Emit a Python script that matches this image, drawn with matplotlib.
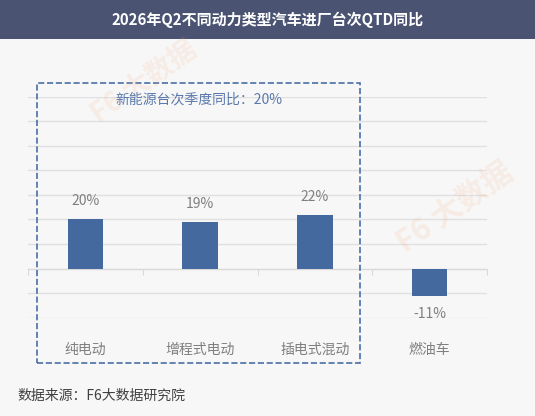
import matplotlib.pyplot as plt
from matplotlib.patches import Rectangle

plt.rcParams['font.family'] = ['Noto Sans CJK SC', 'DejaVu Sans']

# data
categories = ["纯电动", "增程式电动", "插电式混动", "燃油车"]
values = [20, 19, 22, -11]
title = "2026年Q2不同动力类型汽车进厂台次QTD同比"
note = "新能源台次季度同比：20%"
source = "数据来源：F6大数据研究院"

bar_color = "#44699e"
bg = "#f7f7f7"

fig = plt.figure(figsize=(5.35, 4.16), dpi=100, facecolor=bg)

# faint watermark
fig.text(0.27, 0.80, "F6 大数据", color="#f4a46a", alpha=0.13, fontsize=20,
         fontweight="bold", rotation=35, ha="center", va="center")
fig.text(0.85, 0.50, "F6 大数据", color="#f4a46a", alpha=0.13, fontsize=22,
         fontweight="bold", rotation=35, ha="center", va="center")

# title bar
fig.add_artist(Rectangle((0, 1 - 39 / 416), 1, 39 / 416, transform=fig.transFigure,
                         facecolor="#4a5472", edgecolor="none"))
fig.text(0.5, 1 - 19.5 / 416, title, ha="center", va="center", color="white",
         fontsize=10.8, fontweight="bold")

ax = fig.add_axes([28 / 535, 1 - 317.7 / 416, 459 / 535, 221 / 416])
ax.set_facecolor("none")

x = range(len(categories))
bars = ax.bar(x, values, width=0.31, color=bar_color, zorder=3)

ax.set_xlim(-0.5, len(categories) - 0.5)
ax.set_ylim(-20, 70)
ax.set_yticks(range(-20, 71, 10))
ax.yaxis.grid(True, color="#e0e0e0", linewidth=1)
ax.tick_params(axis="y", left=False, labelleft=False)

for s in ["top", "right", "left"]:
    ax.spines[s].set_visible(False)
ax.spines["bottom"].set_position(("data", 0))
ax.spines["bottom"].set_color("#d9d9d9")
ax.set_xticks([i - 0.5 for i in range(len(categories) + 1)])
ax.tick_params(axis="x", length=4, color="#d9d9d9", labelbottom=False)

# value labels
for rect, v in zip(bars, values):
    off = 13 if v >= 0 else -13
    ax.annotate(f"{v}%", (rect.get_x() + rect.get_width() / 2, v),
                xytext=(0, off), textcoords="offset points",
                ha="center", va="center", color="#7f7f7f", fontsize=10)

# category labels
trans = ax.get_xaxis_transform()
for i, c in enumerate(categories):
    ax.text(i, -0.147, c, transform=trans, ha="center", va="center",
            color="#7f7f7f", fontsize=10)

# dashed box around new-energy categories
fig.add_artist(Rectangle((36.7 / 535, 1 - 363.3 / 416), 323.3 / 535, 280 / 416,
                         transform=fig.transFigure, fill=False,
                         edgecolor="#4a6fa8", linestyle="--", linewidth=1.2))
fig.text(198.5 / 535, 1 - 99.3 / 416, note, ha="center", va="center",
         color="#5b79ad", fontsize=10)

fig.text(17 / 535, 1 - 395.7 / 416, source, ha="left", va="center",
         color="#404040", fontsize=10)

fig.savefig("out.png", dpi=100, facecolor=bg)
